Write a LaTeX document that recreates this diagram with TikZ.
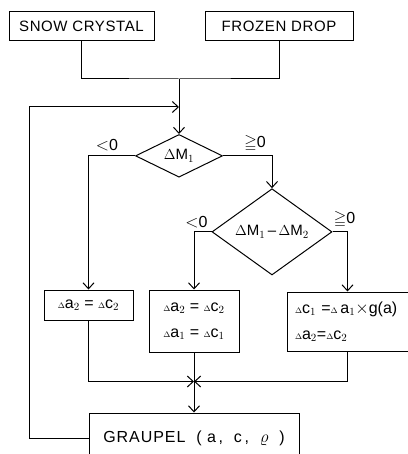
\documentclass[tikz,border=0pt]{standalone}
\usepackage{amssymb}
\usepackage{fontspec}
\setmainfont{Liberation Sans}
\usetikzlibrary{positioning, shapes.geometric, arrows.meta, calc}

\newcommand{\dl}{{\footnotesize$\Delta$}}

\begin{document}
\begin{tikzpicture}[x=1pt, y=1pt,
  % --- Styles ---
  box/.style={
    rectangle, draw, line width=1pt, inner sep=0pt,
    font=\fontsize{16}{18}\selectfont
  },
  headbox/.style={
    box, minimum height=29pt,
    font=\fontsize{15}{17}\selectfont\addfontfeature{LetterSpace=4}
  },
  dec/.style={
    diamond, draw, line width=1pt, inner sep=0pt,
    font=\fontsize{15}{17}\selectfont
  },
  line/.style={
    draw, line width=1pt, -{Straight Barb[length=6pt, width=11pt]}
  },
  lbl/.style={
    font=\fontsize{16}{18}\selectfont
  }
]
\useasboundingbox (0,0) rectangle (407,-454);

% --- 1. Inputs ---
\node [headbox, minimum width=145pt] (snow) at (81.5,-26.5) {SNOW CRYSTAL};
\node [headbox, minimum width=148pt, right=50pt of snow] (frozen) {FROZEN DROP};

% merge point of both inputs
\coordinate (join) at (179,-79);
\draw [line width=1pt] (snow.south) |- (join) -| (frozen.south);

% --- 2. Decisions ---
\node [dec, minimum width=87pt, minimum height=41pt, below=55pt of join] (m1) {$\Delta$M$_1$};
\node [dec, minimum width=120pt, minimum height=58pt] (m2) at ($(m1.east)+(49,-76)$) {$\Delta$M$_1$\,--\,$\Delta$M$_2$};

\draw [line] (join) -- (m1.north);

% sign labels
\node [lbl] at ($(m1.west)+(-28,11)$) {$<$0};
\node [lbl] at ($(m1.east)+(32,12)$) {$\geqq$0};
\node [lbl] at ($(m2.west)+(-15,10)$) {$<$0};
\node [lbl] at ($(m2.east)+(12,12)$) {$\geqq$0};

% --- 3. Assignment boxes ---
\node [box, minimum width=89pt, minimum height=30pt] (boxL) at (88.5,-305) {\dl a$_2$ = \dl c$_2$};
\node [box, minimum width=90pt, minimum height=62pt, anchor=north west, align=center] (boxM)
  at ($(boxL.north east)+(15,0)$) {\dl a$_2$ = \dl c$_2$\\[8pt]\dl a$_1$ = \dl c$_1$};
\node [box, minimum height=59pt, anchor=north west, align=left, inner xsep=8pt, text width=119pt] (boxR)
  at ($(boxM.north east)+(47,-2)$) {\dl c$_1$ =\dl\,a$_1$$\times$g(a)\\[8pt]\dl a$_2$=\dl c$_2$};

\draw [line] (m1.west) -| (boxL.north);
\draw [line] (m1.east) -| (m2.north);
\draw [line] (m2.west) -| (boxM.north);
\draw [line] (m2.east) -| ([xshift=-7pt]boxR.north);

% --- 4. Result ---
\node [box, minimum width=210pt, minimum height=50pt, anchor=north,
  font=\fontsize{16}{18}\selectfont\addfontfeature{LetterSpace=6}] (graupel)
  at ($(boxM.south)+(0,-60)$) {GRAUPEL\ \ (\ a\,,\ \ c\,,\ \ $\varrho$\ \ )};

\coordinate (meet) at ($(boxM.south)+(0,-29)$);
\draw [line] (boxL.south) |- (meet);
\draw [line] ([xshift=-7pt]boxR.south) |- (meet);
\draw [line] (boxM.south) -- (graupel.north);

% feedback loop
\coordinate (loopin) at ($(join)+(0,-28)$);
\draw [line] (graupel.west) -- ++(-59,0) |- (loopin);

\end{tikzpicture}
\end{document}
